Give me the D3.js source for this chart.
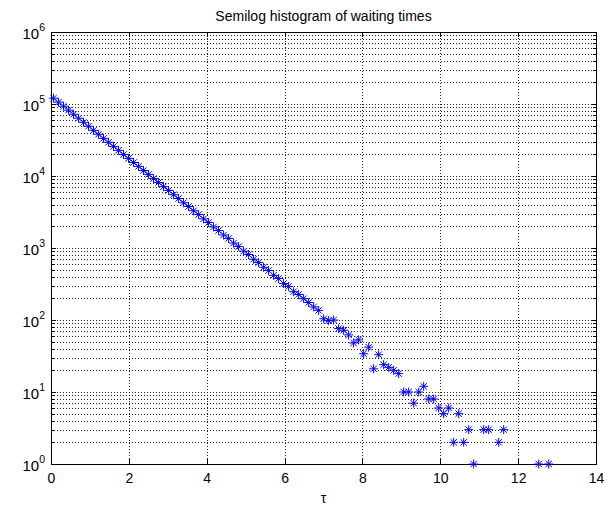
<!DOCTYPE html>
<html>
<head>
<meta charset="utf-8">
<script src="https://cdn.jsdelivr.net/npm/d3@7"></script>
<style>
  body { margin: 0; background: #fff; }
  svg { display: block; }
  text { font-family: "Liberation Sans", Arial, Helvetica, sans-serif; fill: #000; }
</style>
</head>
<body>
<svg id="chart" width="613" height="509"></svg>
<script>
// Histogram bin centres (waiting time τ) and the number of waits in each bin
const tau = [
  0.064, 0.193, 0.321, 0.450, 0.578, 0.707, 0.835, 0.964, 1.092, 1.221,
  1.349, 1.478, 1.606, 1.735, 1.863, 1.992, 2.120, 2.249, 2.377, 2.506,
  2.634, 2.763, 2.891, 3.020, 3.148, 3.277, 3.405, 3.534, 3.662, 3.791,
  3.919, 4.048, 4.176, 4.305, 4.433, 4.562, 4.690, 4.819, 4.947, 5.076,
  5.204, 5.333, 5.461, 5.590, 5.718, 5.847, 5.975, 6.104, 6.232, 6.361,
  6.489, 6.618, 6.746, 6.875, 7.003, 7.132, 7.260, 7.389, 7.517, 7.646,
  7.774, 7.903, 8.031, 8.160, 8.288, 8.417, 8.545, 8.674, 8.802, 8.931,
  9.059, 9.188, 9.316, 9.445, 9.573, 9.702, 9.830, 9.959, 10.087, 10.216,
  10.344, 10.473, 10.601, 10.730, 10.858, 10.987, 11.115, 11.244, 11.372, 11.501,
  11.629, 11.758, 11.886, 12.015, 12.143, 12.272, 12.400, 12.529, 12.657, 12.786
];
const counts = [
  120480, 106120, 93190, 82100, 72050, 63510, 55700, 49120, 43080, 37990,
  33310, 29390, 25760, 22730, 19910, 17580, 15400, 13610, 11900, 10530,
  9205, 8140, 7110, 6300, 5495, 4870, 4250, 3770, 3290, 2915,
  2540, 2260, 1960, 1750, 1515, 1355, 1170, 1046, 905, 812,
  698, 627, 539, 486, 416, 377, 321, 292, 247, 226,
  198, 175, 152, 136, 104, 98, 100, 76, 72, 62,
  48, 53, 34, 42, 21, 33, 24, 22, 20, 18,
  10, 10, 7, 10, 12, 8, 8, 6, 5, 6,
  2, 5, 2, 3, 1, 0, 3, 3, 0, 2,
  3, 0, 0, 0, 0, 0, 0, 1, 0, 1
];
const xTicks = [0, 2, 4, 6, 8, 10, 12, 14];
const yExponents = [0, 1, 2, 3, 4, 5, 6];
const minorFactors = [2, 3, 4, 5, 6, 7, 8, 9];
const titleText = "Semilog histogram of waiting times";
const xLabelText = "τ";

const plot = { left: 51, right: 596, top: 32, bottom: 464 };

const svg = d3.select("#chart");

const x = d3.scaleLinear().domain([0, 14]).range([plot.left, plot.right]);
const y = d3.scaleLog().domain([1, 1e6]).range([plot.bottom, plot.top]);

const majorY = yExponents.map(e => Math.pow(10, e));
const minorY = [];
yExponents.slice(0, -1).forEach(e => minorFactors.forEach(m => minorY.push(m * Math.pow(10, e))));

const px = v => Math.round(v) + 0.5;

// grid: dotted lines at every x tick and at every major/minor decade value
const grid = svg.append("g").attr("class", "grid")
  .attr("stroke", "#222").attr("stroke-width", 1).attr("stroke-dasharray", "1,2")
  .attr("shape-rendering", "crispEdges");
grid.selectAll("line.gx").data(xTicks.slice(1, -1)).join("line").attr("class", "gx")
  .attr("x1", d => px(x(d))).attr("x2", d => px(x(d)))
  .attr("y1", plot.top).attr("y2", plot.bottom);
grid.selectAll("line.gy").data(majorY.slice(1, -1).concat(minorY)).join("line").attr("class", "gy")
  .attr("x1", plot.left).attr("x2", plot.right)
  .attr("y1", d => px(y(d))).attr("y2", d => px(y(d)));

// axes with inward ticks on all four sides
function styleAxis(g) {
  g.selectAll(".domain").remove();
  g.selectAll(".tick line").attr("stroke", "#000").attr("shape-rendering", "crispEdges");
}
svg.append("g").attr("transform", `translate(0,${plot.bottom})`)
  .call(d3.axisBottom(x).tickValues(xTicks).tickSize(-5).tickPadding(9).tickFormat(d3.format("d")))
  .call(styleAxis)
  .call(g => g.selectAll("text").attr("font-size", 14).attr("fill", "#000"));
svg.append("g").attr("transform", `translate(0,${plot.top})`)
  .call(d3.axisTop(x).tickValues(xTicks).tickSize(-5).tickFormat(""))
  .call(styleAxis);
svg.append("g").attr("transform", `translate(${plot.left},0)`)
  .call(d3.axisLeft(y).tickValues(majorY).tickSize(-5).tickFormat(""))
  .call(styleAxis);
svg.append("g").attr("transform", `translate(${plot.left},0)`)
  .call(d3.axisLeft(y).tickValues(minorY).tickSize(-3).tickFormat(""))
  .call(styleAxis);
svg.append("g").attr("transform", `translate(${plot.right},0)`)
  .call(d3.axisRight(y).tickValues(majorY).tickSize(-5).tickFormat(""))
  .call(styleAxis);
svg.append("g").attr("transform", `translate(${plot.right},0)`)
  .call(d3.axisRight(y).tickValues(minorY).tickSize(-3).tickFormat(""))
  .call(styleAxis);

// y tick labels as 10 with a superscript exponent
const yLabels = svg.append("g").attr("class", "ylabels");
yExponents.forEach(e => {
  const t = yLabels.append("text")
    .attr("x", plot.left - 6)
    .attr("y", y(Math.pow(10, e)) + 7)
    .attr("text-anchor", "end")
    .attr("font-size", 15);
  t.append("tspan").text("10");
  t.append("tspan").attr("font-size", 10.5).attr("dy", -8).text(String(e));
});

// frame
svg.append("rect")
  .attr("x", plot.left + 0.5).attr("y", plot.top + 0.5)
  .attr("width", plot.right - plot.left).attr("height", plot.bottom - plot.top)
  .attr("fill", "none").attr("stroke", "#000").attr("stroke-width", 1)
  .attr("shape-rendering", "crispEdges");

// asterisk markers for every non-empty bin
const r = 4.5, a = 3.2;
const star = `M${-r},0L${r},0M0,${-r}L0,${r}M${-a},${-a}L${a},${a}M${-a},${a}L${a},${-a}`;
const pts = tau.map((t, i) => ({ t, c: counts[i] })).filter(d => d.c > 0);
svg.append("g").attr("class", "points")
  .selectAll("path").data(pts).join("path")
  .attr("d", star)
  .attr("transform", d => `translate(${x(d.t)},${y(d.c)})`)
  .attr("fill", "none").attr("stroke", "#0000ff").attr("stroke-width", 1);

// title and axis label
svg.append("text").attr("x", (plot.left + plot.right) / 2).attr("y", 21)
  .attr("text-anchor", "middle").attr("font-size", 14).text(titleText);
svg.append("text").attr("x", (plot.left + plot.right) / 2).attr("y", 503)
  .attr("text-anchor", "middle").attr("font-size", 14).text(xLabelText);
</script>
</body>
</html>
